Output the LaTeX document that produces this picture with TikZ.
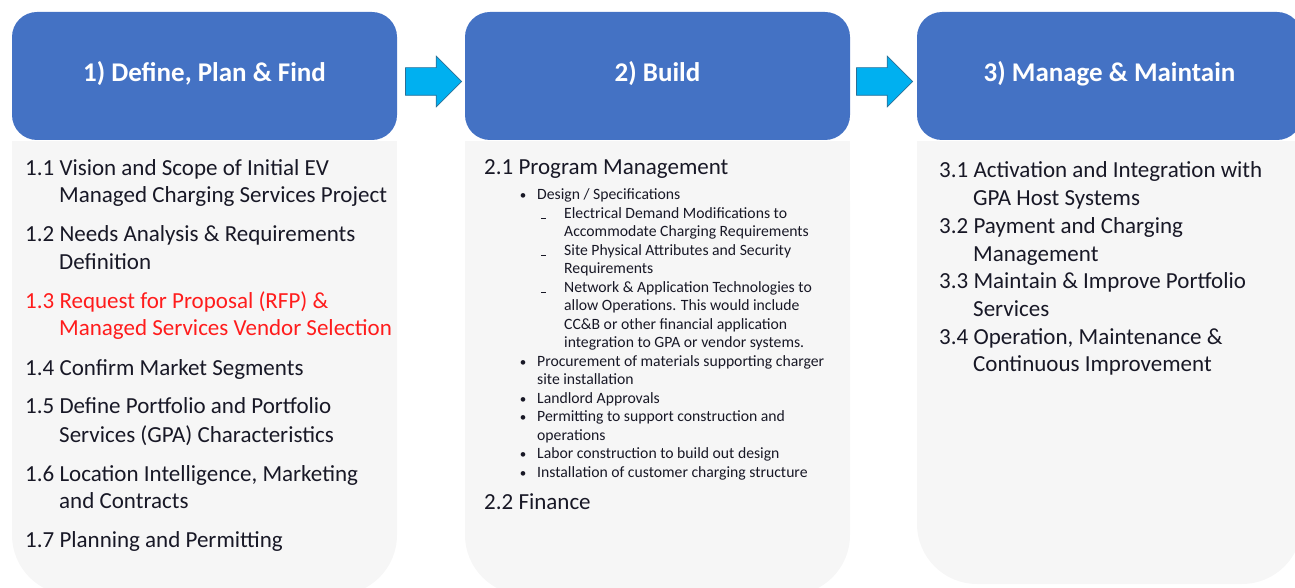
\documentclass[tikz,border=0pt]{standalone}
\usepackage{fontspec}
\setmainfont{Carlito}
\usetikzlibrary{shapes.arrows}
\definecolor{hdrblue}{HTML}{4472C4}
\definecolor{panelgray}{HTML}{F6F6F6}
\definecolor{arrowfill}{HTML}{00B0F0}
\definecolor{arrowedge}{HTML}{2A6F97}
\definecolor{ink}{HTML}{181826}
\definecolor{alert}{HTML}{FF1C1C}
\newcommand\subdash{\rule{5pt}{1.3pt}}
\begin{document}
\begin{tikzpicture}[x=1pt,y=-1pt,
  header/.style={fill=hdrblue, rounded corners=25pt, minimum width=385pt,
    minimum height=128pt, inner sep=0pt},
  title/.style={anchor=base, text=white, inner sep=0pt,
    font=\fontsize{27}{31}\selectfont\bfseries},
  item/.style={anchor=base west, inner sep=0pt, text=ink,
    font=\fontsize{23}{27}\selectfont},
  small/.style={anchor=base west, inner sep=0pt, text=ink,
    font=\fontsize{15.7}{18}\selectfont},
  bul/.style={anchor=base, inner sep=0pt, text=ink,
    font=\fontsize{13}{15}\selectfont},
  blockarrow/.style={single arrow, fill=arrowfill, draw=arrowedge, line width=0.7pt,
    single arrow head extend=11.5pt, single arrow tip angle=90,
    minimum height=56pt, inner sep=0pt, text height=27pt, text depth=0pt,
    text width=0pt, anchor=tip}
]
\useasboundingbox (0,0) rectangle (1295,588);

% panel bodies: square top, rounded bottom
\fill[panelgray, rounded corners=60pt] (12,141) rectangle (397,595);
\fill[panelgray] (12,141) rectangle (397,260);
\fill[panelgray, rounded corners=60pt] (465,141) rectangle (850,595);
\fill[panelgray] (465,141) rectangle (850,260);
\fill[panelgray, rounded corners=60pt] (917,141) rectangle (1302,584);
\fill[panelgray] (917,141) rectangle (1302,260);

% headers
\node[header] (h1) at (204.5,76) {};
\node[header] (h2) at (657.5,76) {};
\node[header] (h3) at (1109.5,76) {};
\node[title] (t1) at (204.5,82) {1) Define, Plan \& Find};
\node[title] (t2) at (657.5,82) {2) Build};
\node[title] (t3) at (1109.5,82) {3) Manage \& Maintain};

% block arrows between the phases
\node[blockarrow] (a1) at (462,81.5) {};
\node[blockarrow] (a2) at (913,81.5) {};

% phase 1
\node[item] (p11a) at (25,176) {1.1 Vision and Scope of Initial EV};
\node[item] (p11b) at (59,203) {Managed Charging Services Project};
\node[item] (p12a) at (25,241) {1.2 Needs Analysis \& Requirements};
\node[item] (p12b) at (59,269) {Definition};
\node[item, text=alert] (p13a) at (25,308) {1.3 Request for Proposal (RFP) \&};
\node[item, text=alert] (p13b) at (59,335) {Managed Services Vendor Selection};
\node[item] (p14a) at (25,375) {1.4 Confirm Market Segments};
\node[item] (p15a) at (25,413) {1.5 Define Portfolio and Portfolio};
\node[item] (p15b) at (59,442) {Services (GPA) Characteristics};
\node[item] (p16a) at (25,481) {1.6 Location Intelligence, Marketing};
\node[item] (p16b) at (59,508) {and Contracts};
\node[item] (p17a) at (25,547) {1.7 Planning and Permitting};

% phase 2
\node[item] (p21) at (484,175) {2.1 Program Management};
\node[bul] (b1) at (523,200) {\textbullet};
\node[small] (s1) at (537,200) {Design / Specifications};
\node[small] (d1) at (541,219) {\subdash};
\node[small] (s2) at (564,218.5) {Electrical Demand Modifications to};
\node[small] (s3) at (564,236.9) {Accommodate Charging Requirements};
\node[small] (d2) at (541,256) {\subdash};
\node[small] (s4) at (564,255.4) {Site Physical Attributes and Security};
\node[small] (s5) at (564,273.9) {Requirements};
\node[small] (d3) at (541,293) {\subdash};
\node[small] (s6) at (564,292.3) {Network \& Application Technologies to};
\node[small] (s7) at (564,310.8) {allow Operations. This would include};
\node[small] (s8) at (564,329.3) {CC\&B or other financial application};
\node[small] (s9) at (564,347.8) {integration to GPA or vendor systems.};
\node[bul] (b2) at (523,366.2) {\textbullet};
\node[small] (s10) at (537,366.2) {Procurement of materials supporting charger};
\node[small] (s11) at (537,384.7) {site installation};
\node[bul] (b3) at (523,403.2) {\textbullet};
\node[small] (s12) at (537,403.2) {Landlord Approvals};
\node[bul] (b4) at (523,421.6) {\textbullet};
\node[small] (s13) at (537,421.6) {Permitting to support construction and};
\node[small] (s14) at (537,440.1) {operations};
\node[bul] (b5) at (523,458.6) {\textbullet};
\node[small] (s15) at (537,458.6) {Labor construction to build out design};
\node[bul] (b6) at (523,477) {\textbullet};
\node[small] (s16) at (537,477) {Installation of customer charging structure};
\node[item] (p22) at (484,509) {2.2 Finance};

% phase 3
\node[item] (p31a) at (939,178) {3.1 Activation and Integration with};
\node[item] (p31b) at (973,205.7) {GPA Host Systems};
\node[item] (p32a) at (939,233.4) {3.2 Payment and Charging};
\node[item] (p32b) at (973,261.1) {Management};
\node[item] (p33a) at (939,288.8) {3.3 Maintain \& Improve Portfolio};
\node[item] (p33b) at (973,316.5) {Services};
\node[item] (p34a) at (939,344.2) {3.4 Operation, Maintenance \&};
\node[item] (p34b) at (973,371.9) {Continuous Improvement};
\end{tikzpicture}
\end{document}
